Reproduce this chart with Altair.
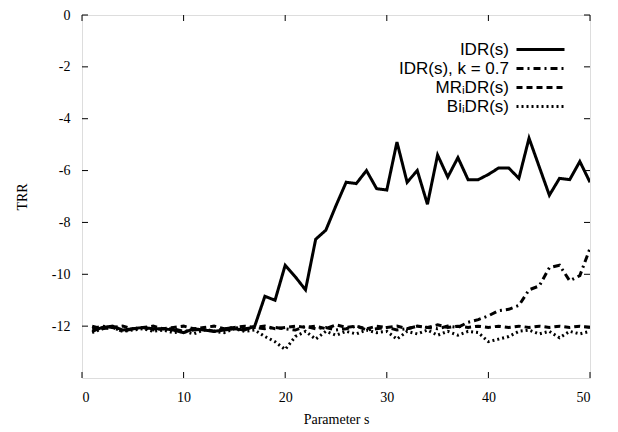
import altair as alt
import pandas as pd

s_values = list(range(1, 51))

idr = [-12.2, -12.05, -12.0, -12.15, -12.1, -12.05, -12.1, -12.1, -12.15, -12.25,
       -12.1, -12.15, -12.2, -12.15, -12.1, -12.15, -12.0, -10.85, -11.0, -9.65,
       -10.1, -10.6, -8.65, -8.3, -7.35, -6.45, -6.5, -6.0, -6.7, -6.75,
       -4.9, -6.45, -6.0, -7.3, -5.4, -6.25, -5.5, -6.35, -6.35, -6.15,
       -5.9, -5.9, -6.3, -4.75, -5.85, -6.95, -6.3, -6.35, -5.65, -6.45]

idr_k07 = [-12.1, -12.0, -12.05, -12.2, -12.1, -12.05, -12.15, -12.1, -12.1, -12.2,
           -12.15, -12.1, -12.2, -12.1, -12.05, -12.1, -12.05, -12.1, -12.05, -12.1,
           -12.15, -12.0, -12.1, -12.05, -12.15, -12.1, -12.0, -12.15, -12.1, -12.05,
           -12.15, -12.1, -12.0, -12.05, -12.1, -12.0, -12.05, -11.85, -11.75, -11.6,
           -11.4, -11.35, -11.2, -10.6, -10.45, -9.75, -9.65, -10.25, -10.05, -9.0]

mr_idr = [-12.0, -12.1, -12.05, -12.0, -12.1, -12.05, -12.0, -12.1, -12.05, -12.0,
          -12.1, -12.05, -12.0, -12.1, -12.05, -12.0, -12.05, -12.0, -12.1, -12.05,
          -12.0, -12.05, -12.0, -12.1, -11.95, -12.05, -12.0, -12.1, -12.0, -12.05,
          -12.0, -12.1, -12.0, -12.05, -11.95, -12.05, -12.0, -12.05, -12.0, -12.05,
          -12.0, -12.05, -12.0, -12.05, -12.0, -12.05, -12.0, -12.05, -12.0, -12.05]

bi_idr = [-12.25, -12.1, -12.05, -12.2, -12.15, -12.1, -12.2, -12.15, -12.25, -12.2,
          -12.3, -12.15, -12.2, -12.25, -12.1, -12.2, -12.15, -12.4, -12.6, -12.9,
          -12.4, -12.2, -12.5, -12.2, -12.35, -12.2, -12.3, -12.15, -12.25, -12.2,
          -12.5, -12.2, -12.3, -12.15, -12.35, -12.2, -12.35, -12.2, -12.25, -12.6,
          -12.5, -12.4, -12.2, -12.15, -12.3, -12.2, -12.45, -12.2, -12.3, -12.2]

series_names = ["IDR(s)", "IDR(s), k = 0.7", "MRᵢDR(s)", "BiᵢDR(s)"]
series_dash = [[1, 0], [7, 4, 2, 4], [6, 4], [2, 3]]
x_ticks = [0, 10, 20, 30, 40, 50]
y_ticks = [0, -2, -4, -6, -8, -10, -12]

W, H = 508, 363
SERIF = "Liberation Serif"
SANS = "Liberation Sans"

rows = []
for name, vals in zip(series_names, [idr, idr_k07, mr_idr, bi_idr]):
    for sv, v in zip(s_values, vals):
        rows.append({"s": sv, "TRR": v, "series": name})
df = pd.DataFrame(rows)

x_scale = alt.Scale(domain=[0, 50], nice=False, zero=False)
y_scale = alt.Scale(domain=[-14, 0], nice=False, zero=False)

lines = alt.Chart(df).mark_line(strokeWidth=3, color="black", clip=True).encode(
    x=alt.X("s:Q", scale=x_scale,
            axis=alt.Axis(values=x_ticks, title="Parameter s", ticks=False, domain=False,
                          grid=False, labelFont=SERIF, labelFontSize=14, labelColor="black",
                          titleFont=SERIF, titleFontSize=14, titleFontWeight="normal",
                          titleColor="black", labelPadding=12, titlePadding=8)),
    y=alt.Y("TRR:Q", scale=y_scale,
            axis=alt.Axis(values=y_ticks, title="TRR", ticks=False, domain=False,
                          grid=False, labelFont=SERIF, labelFontSize=14, labelColor="black",
                          labelExpr="'' + datum.value",
                          titleFont=SERIF, titleFontSize=14, titleFontWeight="normal",
                          titleColor="black", labelPadding=12, titlePadding=22)),
    strokeDash=alt.StrokeDash(
        "series:N",
        scale=alt.Scale(domain=series_names, range=series_dash),
        sort=series_names,
        legend=alt.Legend(orient="none", legendX=450, legendY=26, title=None,
                          symbolType="M-4.8,0H4.8", symbolSize=100, symbolStrokeWidth=3,
                          symbolStrokeColor="black", symbolFillColor="transparent",
                          labelFont=SANS, labelFontSize=17,
                          labelColor="black", labelAlign="right",
                          labelOffset={"expr": "-40"},
                          rowPadding=1, labelLimit=300)),
    detail="series:N",
)

xt = pd.DataFrame({"v": x_ticks})
yt = pd.DataFrame({"v": y_ticks})

xtick_bottom = alt.Chart(xt).mark_rule(color="black", strokeWidth=1).encode(
    x=alt.X("v:Q", scale=x_scale), y=alt.value(H), y2=alt.value(H - 6))
xtick_top = alt.Chart(xt).mark_rule(color="black", strokeWidth=1).encode(
    x=alt.X("v:Q", scale=x_scale), y=alt.value(0), y2=alt.value(6))
ytick_left = alt.Chart(yt).mark_rule(color="black", strokeWidth=1).encode(
    y=alt.Y("v:Q", scale=y_scale), x=alt.value(0), x2=alt.value(6))
ytick_right = alt.Chart(yt).mark_rule(color="black", strokeWidth=1).encode(
    y=alt.Y("v:Q", scale=y_scale), x=alt.value(W), x2=alt.value(W - 6))

chart = alt.layer(xtick_bottom, xtick_top, ytick_left, ytick_right, lines).properties(
    width=W, height=H,
    autosize=alt.AutoSizeParams(type="none"),
    padding={"left": 82, "top": 15, "right": 28, "bottom": 54},
).configure_view(stroke="black", strokeWidth=1.5).configure(background="white")

chart.save("out.html", embed_options={"renderer": "svg", "actions": False})
